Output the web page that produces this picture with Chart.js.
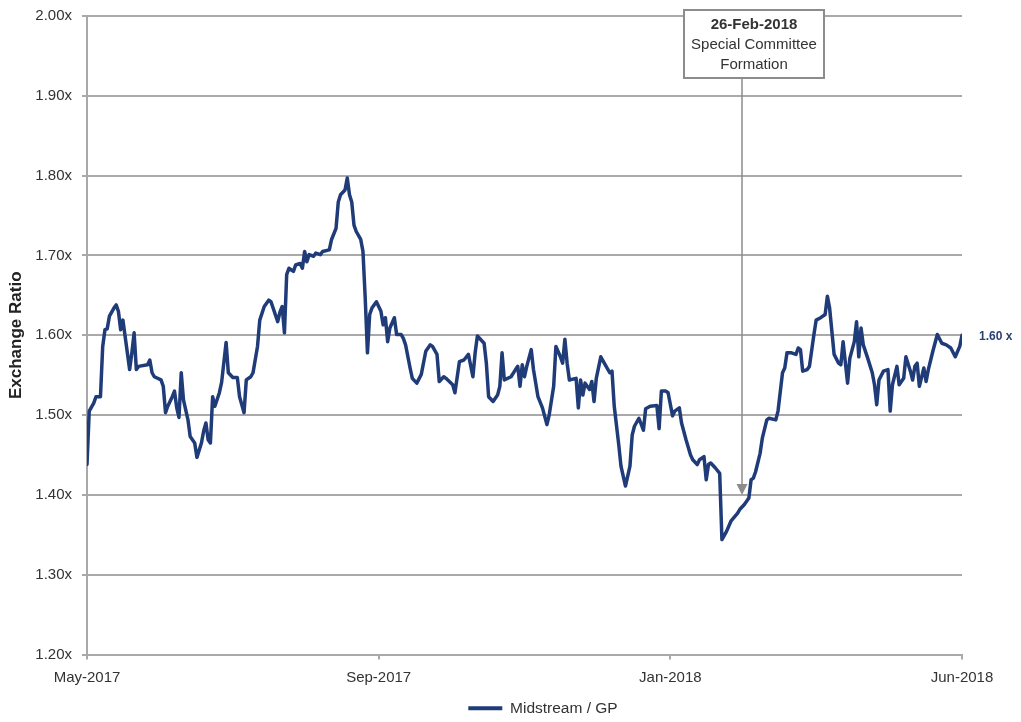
<!DOCTYPE html>
<html>
<head>
<meta charset="utf-8">
<title>Exchange Ratio</title>
<script src="https://cdn.jsdelivr.net/npm/chart.js@4.4.1/dist/chart.umd.min.js"></script>
<style>
  html, body { margin: 0; padding: 0; background: #ffffff; }
  #wrap { width: 1021px; height: 722px; }
</style>
</head>
<body>
<div id="wrap"><canvas id="ratioChart" width="1021" height="722"></canvas></div>
<script>
// Day offset from the start of the window (May-2017 = 0, Jun-2018 = 390)
const sessionDay = [
  0,1,3,4,6,7,8,9,10,12,
  13,14,15,16,19,20,21,22,23,27,
  28,29,30,33,34,35,36,38,39,40,
  41,42,43,45,46,48,49,51,52,53,
  54,55,56,57,59,60,61,62,63,65,
  67,68,70,71,73,74,76,77,79,81,
  82,85,86,87,88,89,90,92,93,95,
  96,97,98,99,101,102,104,105,108,109,
  111,112,113,115,116,117,118,119,120,122,
  123,124,125,126,127,129,131,132,133,134,
  135,137,138,140,141,142,144,145,147,149,
  151,153,154,156,157,159,160,163,164,166,
  168,170,172,173,174,177,178,179,181,183,
  184,185,186,189,191,192,193,194,195,196,
  198,199,201,203,205,206,208,209,211,212,
  213,214,215,218,219,220,221,222,224,225,
  226,227,229,231,233,234,235,237,238,240,
  242,243,244,246,248,249,251,254,255,256,
  258,259,261,262,264,265,267,269,270,272,
  273,275,276,277,278,280,282,283,285,287,
  290,291,293,295,296,297,298,300,301,303,
  304,307,308,310,311,312,314,316,317,318,
  319,321,322,324,325,327,329,330,331,332,
  333,335,336,337,339,340,342,343,344,345,
  346,348,350,351,352,353,355,357,358,359,
  361,362,364,365,367,368,369,370,371,373,
  374,375,377,379,381,383,385,387,389,390
];

// Midstream / GP exchange ratio for each day above
const ratio = [
  1.438,1.505,1.515,1.523,1.523,1.586,1.607,1.608,1.624,1.634,
  1.638,1.630,1.607,1.619,1.557,1.578,1.603,1.557,1.561,1.563,
  1.569,1.553,1.548,1.544,1.536,1.503,1.511,1.523,1.530,1.509,
  1.497,1.553,1.519,1.494,1.473,1.465,1.447,1.465,1.480,1.490,
  1.469,1.465,1.523,1.511,1.528,1.541,1.566,1.591,1.553,1.547,
  1.547,1.523,1.503,1.544,1.548,1.553,1.586,1.619,1.636,1.644,
  1.642,1.617,1.629,1.636,1.603,1.676,1.684,1.680,1.688,1.690,
  1.684,1.705,1.692,1.701,1.699,1.703,1.701,1.705,1.707,1.720,
  1.734,1.767,1.776,1.782,1.797,1.776,1.767,1.738,1.730,1.720,
  1.705,1.647,1.578,1.626,1.634,1.642,1.630,1.613,1.622,1.592,
  1.609,1.622,1.601,1.601,1.596,1.588,1.559,1.546,1.540,1.551,
  1.580,1.588,1.586,1.576,1.542,1.548,1.546,1.538,1.528,1.567,
  1.569,1.576,1.548,1.578,1.599,1.590,1.565,1.523,1.517,1.525,
  1.536,1.578,1.544,1.548,1.557,1.561,1.536,1.563,1.548,1.561,
  1.582,1.557,1.523,1.509,1.488,1.500,1.536,1.586,1.573,1.565,
  1.595,1.565,1.544,1.546,1.509,1.544,1.525,1.540,1.532,1.542,
  1.517,1.546,1.573,1.563,1.553,1.555,1.511,1.463,1.436,1.411,
  1.436,1.475,1.486,1.496,1.481,1.508,1.511,1.512,1.483,1.530,
  1.530,1.528,1.499,1.505,1.509,1.490,1.469,1.450,1.444,1.438,
  1.444,1.448,1.419,1.438,1.440,1.434,1.427,1.344,1.354,1.367,
  1.377,1.382,1.388,1.396,1.419,1.421,1.429,1.452,1.471,1.494,
  1.496,1.494,1.505,1.553,1.559,1.578,1.578,1.576,1.584,1.582,
  1.555,1.557,1.561,1.601,1.619,1.622,1.626,1.649,1.634,1.605,
  1.576,1.565,1.563,1.592,1.540,1.571,1.592,1.617,1.573,1.609,
  1.588,1.571,1.553,1.538,1.513,1.544,1.555,1.557,1.505,1.538,
  1.561,1.538,1.546,1.573,1.555,1.544,1.561,1.565,1.536,1.559,
  1.542,1.557,1.580,1.601,1.590,1.588,1.584,1.573,1.586,1.600
];

// Horizontal axis labels and where they sit
const tickDays = [0, 130, 260, 390];
const tickLabels = ['May-2017', 'Sep-2017', 'Jan-2018', 'Jun-2018'];

// Event callout
const eventDay = 292;
const eventArrowValue = 1.40;
const eventTitle = '26-Feb-2018';
const eventLines = ['Special Committee', 'Formation'];

const seriesName = 'Midstream / GP';
const seriesColor = '#1f3b78';
const gridColor = '#a9a9a9';
const textColor = '#333333';
const fontFamily = '"Liberation Sans", Arial, Helvetica, sans-serif';

Chart.defaults.font.family = fontFamily;
Chart.defaults.color = textColor;

const points = sessionDay.map((d, i) => ({ x: d, y: ratio[i] }));

// Nudges the bottom legend so it sits under the right-hand part of the plot
const legendOffset = {
  id: 'legendOffset',
  afterLayout(chart) {
    const lg = chart.legend;
    if (!lg) return;
    const dx = 62, dy = 4;
    lg.left += dx; lg.right += dx;
    lg.top += dy; lg.bottom += dy;
  }
};

const eventMarker = {
  id: 'eventMarker',
  beforeDatasetsDraw(chart) {
    const { ctx, chartArea, scales: { x, y } } = chart;
    const px = Math.round(x.getPixelForValue(eventDay));
    const tipY = y.getPixelForValue(eventArrowValue);
    const lineTop = chartArea.top + 62;
    ctx.save();
    ctx.strokeStyle = '#8c8c8c';
    ctx.lineWidth = 1.5;
    ctx.beginPath();
    ctx.moveTo(px, lineTop);
    ctx.lineTo(px, tipY - 9);
    ctx.stroke();
    ctx.fillStyle = '#8c8c8c';
    ctx.beginPath();
    ctx.moveTo(px - 5.5, tipY - 11);
    ctx.lineTo(px + 5.5, tipY - 11);
    ctx.lineTo(px, tipY);
    ctx.closePath();
    ctx.fill();
    ctx.restore();
  },
  afterDraw(chart) {
    const { ctx, chartArea, scales: { x, y } } = chart;
    const px = Math.round(x.getPixelForValue(eventDay));
    // callout box
    const bw = 140, bh = 68;
    const bx = px - 58, by = chartArea.top - 6;
    ctx.save();
    ctx.fillStyle = '#ffffff';
    ctx.fillRect(bx, by, bw, bh);
    ctx.strokeStyle = '#8c8c8c';
    ctx.lineWidth = 2;
    ctx.strokeRect(bx, by, bw, bh);
    ctx.fillStyle = textColor;
    ctx.textAlign = 'center';
    ctx.textBaseline = 'middle';
    const cx = bx + bw / 2;
    ctx.font = 'bold 15px ' + fontFamily;
    ctx.fillText(eventTitle, cx, by + 15);
    ctx.font = '15px ' + fontFamily;
    eventLines.forEach((t, i) => ctx.fillText(t, cx, by + 35 + i * 20));

    // latest value label
    const lastDay = sessionDay[sessionDay.length - 1];
    const lastVal = ratio[ratio.length - 1];
    ctx.font = 'bold 12px ' + fontFamily;
    ctx.fillStyle = '#2b3f73';
    ctx.textAlign = 'left';
    ctx.fillText(lastVal.toFixed(2) + ' x', x.getPixelForValue(lastDay) + 17, y.getPixelForValue(lastVal) + 1);
    ctx.restore();
  }
};

new Chart(document.getElementById('ratioChart'), {
  type: 'line',
  data: {
    datasets: [{
      label: seriesName,
      data: points,
      borderColor: seriesColor,
      backgroundColor: seriesColor,
      borderWidth: 3.5,
      borderJoinStyle: 'round',
      borderCapStyle: 'round',
      pointRadius: 0,
      tension: 0,
      fill: false
    }]
  },
  options: {
    responsive: false,
    animation: false,
    layout: { padding: { top: 16, right: 59, left: 0, bottom: 0 } },
    plugins: {
      tooltip: { enabled: false },
      legend: {
        position: 'bottom',
        labels: {
          boxWidth: 34,
          boxHeight: 4,
          padding: 8,
          color: textColor,
          font: { size: 15.5 },
          generateLabels: (chart) =>
            Chart.defaults.plugins.legend.labels.generateLabels(chart)
              .map(l => ({ ...l, lineWidth: 0, fillStyle: seriesColor }))
        }
      }
    },
    scales: {
      x: {
        type: 'linear',
        min: tickDays[0],
        max: tickDays[tickDays.length - 1],
        afterBuildTicks: (scale) => { scale.ticks = tickDays.map(v => ({ value: v })); },
        afterFit: (scale) => { scale.height = 34; },
        grid: { drawOnChartArea: false, drawTicks: true, tickLength: 5, color: gridColor, lineWidth: 2 },
        border: { display: true, color: gridColor, width: 2 },
        ticks: {
          autoSkip: false,
          maxRotation: 0,
          padding: 9,
          color: textColor,
          font: { size: 15 },
          callback: (v) => {
            const i = tickDays.indexOf(v);
            return i >= 0 ? tickLabels[i] : '';
          }
        }
      },
      y: {
        min: 1.2,
        max: 2.0,
        afterFit: (scale) => { scale.width = 87; scale.paddingTop = 0; scale.paddingBottom = 0; },
        grid: { color: gridColor, lineWidth: 2, drawTicks: true, tickLength: 5 },
        border: { display: true, color: gridColor, width: 2 },
        ticks: {
          stepSize: 0.1,
          padding: 10,
          color: textColor,
          font: { size: 15 },
          callback: (v) => Number(v).toFixed(2) + 'x'
        },
        title: {
          display: true,
          text: 'Exchange Ratio',
          color: '#222222',
          font: { size: 17, weight: 'bold' },
          padding: { top: 6, bottom: 0 }
        }
      }
    }
  },
  plugins: [eventMarker, legendOffset]
});
</script>
</body>
</html>
